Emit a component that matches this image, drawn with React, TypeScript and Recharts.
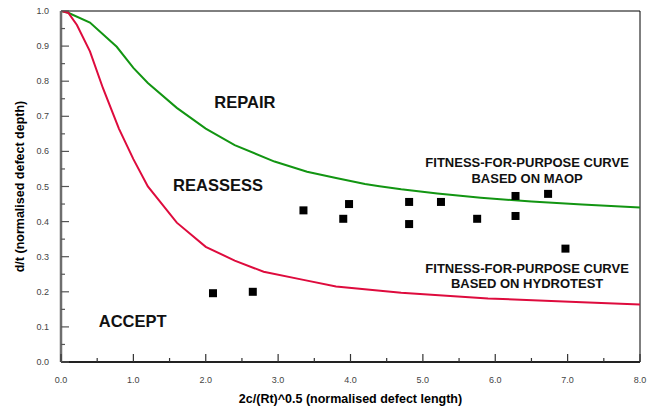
import React from "react";
import {
  ComposedChart,
  Line,
  Scatter,
  XAxis,
  YAxis,
  ReferenceLine,
  ReferenceDot,
} from "recharts";

// fitness-for-purpose curve based on MAOP
const maopLength = [0, 0.1, 0.4, 0.77, 1.0, 1.2, 1.6, 2.0, 2.4, 2.95, 3.4, 3.8, 4.2, 4.4, 4.7, 5.2, 5.8, 6.5, 7.2, 8.0];
const maopDepth = [1.0, 0.995, 0.967, 0.898, 0.838, 0.795, 0.724, 0.665, 0.618, 0.571, 0.542, 0.524, 0.507, 0.501, 0.492, 0.48, 0.468, 0.457, 0.449, 0.44];

// fitness-for-purpose curve based on hydrotest
const hydroLength = [0, 0.1, 0.22, 0.4, 0.58, 0.8, 1.0, 1.2, 1.6, 2.0, 2.4, 2.8, 3.35, 3.8, 4.7, 5.9, 7.2, 8.0];
const hydroDepth = [1.0, 0.995, 0.96, 0.885, 0.78, 0.665, 0.578, 0.5, 0.397, 0.328, 0.289, 0.257, 0.234, 0.215, 0.197, 0.181, 0.17, 0.164];

// measured defects
const defectLength = [2.1, 2.65, 3.35, 3.9, 3.98, 4.81, 4.81, 5.25, 5.75, 6.28, 6.28, 6.73, 6.97];
const defectDepth = [0.196, 0.2, 0.432, 0.408, 0.45, 0.456, 0.393, 0.456, 0.408, 0.473, 0.416, 0.479, 0.323];

const xTicks = [0, 0.5, 1, 1.5, 2, 2.5, 3, 3.5, 4, 4.5, 5, 5.5, 6, 6.5, 7, 7.5, 8];
const yTicks = [0, 0.05, 0.1, 0.15, 0.2, 0.25, 0.3, 0.35, 0.4, 0.45, 0.5, 0.55, 0.6, 0.65, 0.7, 0.75, 0.8, 0.85, 0.9, 0.95, 1];

// region / curve annotations
const regionNames = ["REPAIR", "REASSESS", "ACCEPT"];
const regionX = [2.54, 2.17, 0.99];
const regionY = [0.74, 0.504, 0.117];

const curveNotes = ["FITNESS-FOR-PURPOSE CURVE", "BASED ON MAOP", "FITNESS-FOR-PURPOSE CURVE", "BASED ON HYDROTEST"];
const curveNoteX = [6.44, 6.44, 6.44, 6.44];
const curveNoteY = [0.568, 0.524, 0.268, 0.224];

const maop = maopLength.map((x, i) => ({ x, y: maopDepth[i] }));
const hydro = hydroLength.map((x, i) => ({ x, y: hydroDepth[i] }));
const defects = defectLength.map((x, i) => ({ x, y: defectDepth[i] }));

const FONT = "Arial, 'Liberation Sans', sans-serif";

const isMajor = (v: number, step: number) => Math.abs(v / step - Math.round(v / step)) < 1e-6;

function YTick(props: any) {
  const { x, y, payload } = props;
  const v = payload.value;
  const major = isMajor(v, 0.1);
  const ax = x + 12;
  return (
    <g>
      <line x1={ax} x2={ax + (major ? 8 : 4)} y1={y} y2={y} stroke="#555" strokeWidth={1.2} />
      {major && (
        <text x={x} y={y} dy={3} textAnchor="end" fontSize={9} fill="#444" fontFamily={FONT}>
          {v.toFixed(1)}
        </text>
      )}
    </g>
  );
}

function XTick(props: any) {
  const { x, y, payload } = props;
  const v = payload.value;
  const major = isMajor(v, 1);
  const ay = y - 18;
  return (
    <g>
      <line x1={x} x2={x} y1={ay} y2={ay - (major ? 8 : 4)} stroke="#333" strokeWidth={1.2} />
      {major && (
        <text x={x} y={y} dy={3} textAnchor="middle" fontSize={9} fill="#444" fontFamily={FONT}>
          {v.toFixed(1)}
        </text>
      )}
    </g>
  );
}

const Square = (props: any) => (
  <rect x={props.cx - 4} y={props.cy - 4} width={8} height={8} fill="#000" />
);

export default function App() {
  return (
    <div style={{ position: "absolute", left: 0, top: 0, background: "#fff" }}>
      <ComposedChart width={655} height={412} margin={{ top: 11, right: 15, bottom: 0, left: 0 }}>
        <XAxis
          type="number"
          dataKey="x"
          domain={[0, 8]}
          ticks={xTicks}
          interval={0}
          height={50}
          tickSize={0}
          tickMargin={18}
          tick={<XTick />}
          axisLine={{ stroke: "#222", strokeWidth: 2 }}
          allowDataOverflow
          label={{
            content: (p: any) => (
              <text
                x={p.viewBox.x + p.viewBox.width / 2}
                y={403}
                textAnchor="middle"
                fontSize={12.5}
                fontWeight="bold"
                fill="#000"
                fontFamily={FONT}
              >
                2c/(Rt)^0.5 (normalised defect length)
              </text>
            ),
          }}
        />
        <YAxis
          type="number"
          dataKey="y"
          domain={[0, 1]}
          ticks={yTicks}
          interval={0}
          width={61}
          tickSize={0}
          tickMargin={12}
          tick={<YTick />}
          axisLine={{ stroke: "#6e6e6e", strokeWidth: 2.5 }}
          allowDataOverflow
          label={{
            content: (p: any) => {
              const cx = 20;
              const cy = p.viewBox.y + p.viewBox.height / 2;
              return (
                <text
                  x={cx}
                  y={cy}
                  transform={`rotate(-90 ${cx} ${cy})`}
                  textAnchor="middle"
                  dominantBaseline="central"
                  fontSize={12.5}
                  fontWeight="bold"
                  fill="#000"
                  fontFamily={FONT}
                >
                  d/t (normalised defect depth)
                </text>
              );
            },
          }}
        />
        <ReferenceLine y={1} stroke="#000" strokeWidth={1} />
        <ReferenceLine x={8} stroke="#000" strokeWidth={1} />
        <Line
          data={maop}
          dataKey="y"
          type="linear"
          stroke="#129512"
          strokeWidth={2}
          dot={false}
          isAnimationActive={false}
        />
        <Line
          data={hydro}
          dataKey="y"
          type="linear"
          stroke="#de0b3d"
          strokeWidth={2}
          dot={false}
          isAnimationActive={false}
        />
        <Scatter data={defects} shape={<Square />} isAnimationActive={false} />
        {regionNames.map((name, i) => (
          <ReferenceDot
            key={name}
            x={regionX[i]}
            y={regionY[i]}
            r={1}
            fill="none"
            stroke="none"
            ifOverflow="visible"
            label={{
              value: name,
              position: "center",
              fontSize: 16.5,
              fontWeight: "bold",
              fill: "#111",
              fontFamily: FONT,
            }}
          />
        ))}
        {curveNotes.map((note, i) => (
          <ReferenceDot
            key={i}
            x={curveNoteX[i]}
            y={curveNoteY[i]}
            r={1}
            fill="none"
            stroke="none"
            ifOverflow="visible"
            label={{
              value: note,
              position: "center",
              fontSize: 13,
              fontWeight: "bold",
              fill: "#111",
              fontFamily: FONT,
            }}
          />
        ))}
      </ComposedChart>
    </div>
  );
}
